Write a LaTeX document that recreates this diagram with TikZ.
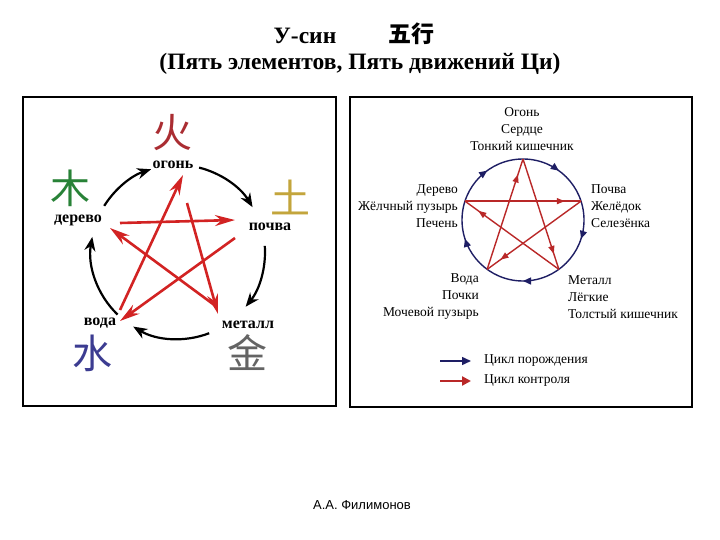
\documentclass[tikz,border=0pt]{standalone}
\usepackage{fontspec}
\setmainfont{Liberation Serif}
\setsansfont{Liberation Sans}
\newfontfamily\cjk{Noto Sans CJK SC}
\usetikzlibrary{calc,positioning,arrows.meta,decorations.markings}

\definecolor{firered}{RGB}{170,45,50}
\definecolor{woodgreen}{RGB}{40,130,55}
\definecolor{earthyellow}{RGB}{195,165,60}
\definecolor{metalgrey}{RGB}{100,100,100}
\definecolor{waterblue}{RGB}{60,60,145}
\definecolor{ctrlred}{RGB}{210,35,35}
\definecolor{gennavy}{RGB}{30,30,100}
\definecolor{ctrldark}{RGB}{185,40,40}

\begin{document}
\begin{tikzpicture}[x=1pt,y=-1pt,
  title/.style={font=\bfseries\fontsize{23.5}{24}\selectfont},
  hanzi/.style={font=\cjk\fontsize{40}{40}\selectfont},
  elem/.style={font=\bfseries\fontsize{16}{16}\selectfont},
  organ/.style={font=\fontsize{13.5}{17}\selectfont, inner sep=0pt},
  genarc/.style={line width=2.2pt,-{Stealth[length=14pt,width=11pt]}},
  ctrlbig/.style={ctrlred,line width=2.6pt,-{Stealth[length=20pt,width=11pt]}},
  ctrlthin/.style={ctrldark,line width=1.4pt,postaction={decorate},
    decoration={markings,mark=at position 0.86 with {\arrow{Triangle[length=8pt,width=6pt]}}}},
  frame/.style={line width=2pt}]
\useasboundingbox (0,0) rectangle (720,540);

% title
\node[title] (usin) at (305,36) {У-син};
\node[font=\cjk\bfseries\fontsize{23}{23}\selectfont] (wuxing) at (411,34) {五行};
\node[title] (subtitle) at (360,64) {(Пять элементов, Пять движений Ци)};

% left picture
\draw[frame] (23,97) rectangle (336,406);
\node[hanzi,text=firered] (fire-char) at (172,133) {火};
\node[hanzi,text=woodgreen] (wood-char) at (70,188) {木};
\node[hanzi,text=earthyellow] (earth-char) at (290,197) {土};
\node[hanzi,text=metalgrey] (metal-char) at (247,353) {金};
\node[hanzi,text=waterblue] (water-char) at (92,353) {水};
\node[elem] (fire) at (173,165) {огонь};
\node[elem] (wood) at (78,220) {дерево};
\node[elem] (earth) at (270,227) {почва};
\node[elem] (metal) at (248,325) {металл};
\node[elem] (water) at (100,323) {вода};

% generation cycle
\coordinate (lc) at (178,252);
\draw[genarc] ($(lc)+(-148:87)$) arc[start angle=-148,end angle=-108,radius=87];
\draw[genarc] ($(lc)+(-76:87)$) arc[start angle=-76,end angle=-31,radius=87];
\draw[genarc] ($(lc)+(-4:87)$) arc[start angle=-4,end angle=39,radius=87];
\draw[genarc] ($(lc)+(69:87)$) arc[start angle=69,end angle=121,radius=87];
\draw[genarc] ($(lc)+(134:87)$) arc[start angle=134,end angle=190,radius=87];

% control cycle
\coordinate (wood-out) at (120,223);
\coordinate (earth-in) at (235,220);
\coordinate (earth-out) at (235,238);
\coordinate (water-in) at (120,321);
\coordinate (water-out) at (120,310);
\coordinate (fire-in) at (183,175);
\coordinate (fire-out) at (187,203);
\coordinate (metal-in) at (218,314);
\coordinate (metal-out) at (217,307);
\coordinate (wood-in) at (110,228);
\draw[ctrlbig] (wood-out) -- (earth-in);
\draw[ctrlbig] (earth-out) -- (water-in);
\draw[ctrlbig] (water-out) -- (fire-in);
\draw[ctrlbig] (fire-out) -- (metal-in);
\draw[ctrlbig] (metal-out) -- (wood-in);

% right picture
\draw[frame] (350,97) rectangle (692,407);
\coordinate (rc) at (523,220);
\coordinate (r-fire) at ($(rc)+(-90:61)$);
\coordinate (r-earth) at ($(rc)+(-18:61)$);
\coordinate (r-metal) at ($(rc)+(54:61)$);
\coordinate (r-water) at ($(rc)+(126:61)$);
\coordinate (r-wood) at ($(rc)+(198:61)$);
\draw[gennavy,line width=1.4pt,postaction={decorate},
  decoration={markings,mark=between positions 0.1 and 0.9 step 0.2 with {\arrow{Triangle[length=8pt,width=7pt]}}}]
  (r-fire) arc[start angle=-90,end angle=270,radius=61];
\draw[ctrlthin] (r-wood) -- (r-earth);
\draw[ctrlthin] (r-earth) -- (r-water);
\draw[ctrlthin] (r-water) -- (r-fire);
\draw[ctrlthin] (r-fire) -- (r-metal);
\draw[ctrlthin] (r-metal) -- (r-wood);

\node[organ,align=center] (fire-org) at (522,129) {Огонь\\Сердце\\Тонкий кишечник};
\node[organ,align=right,anchor=east] (wood-org) at (458,206) {Дерево\\Жёлчный пузырь\\Печень};
\node[organ,align=left,anchor=west] (earth-org) at (591,206) {Почва\\Желёдок\\Селезёнка};
\node[organ,align=right,anchor=east] (water-org) at (479,297) {Вода\\Почки\\Мочевой пузырь};
\node[organ,align=left,anchor=west] (metal-org) at (568,297) {Металл\\Лёгкие\\Толстый кишечник};

% legend
\node[organ,anchor=west] (gen-txt) at (484,361) {Цикл порождения};
\node[organ,anchor=west] (ctrl-txt) at (484,381) {Цикл контроля};
\coordinate (gen-start) at (440,361);
\coordinate (ctrl-start) at (440,381);
\draw[gennavy,line width=1.5pt,-{Triangle[length=9pt,width=8pt]}] (gen-start) -- (gen-txt.west) [shorten >=13pt];
\draw[ctrldark,line width=2.8pt,-{Triangle[length=9pt,width=9pt]}] (ctrl-start) -- (ctrl-txt.west) [shorten >=13pt];

\node[font=\sffamily\fontsize{13}{13}\selectfont] (author) at (362,505) {А.А. Филимонов};
\end{tikzpicture}
\end{document}
